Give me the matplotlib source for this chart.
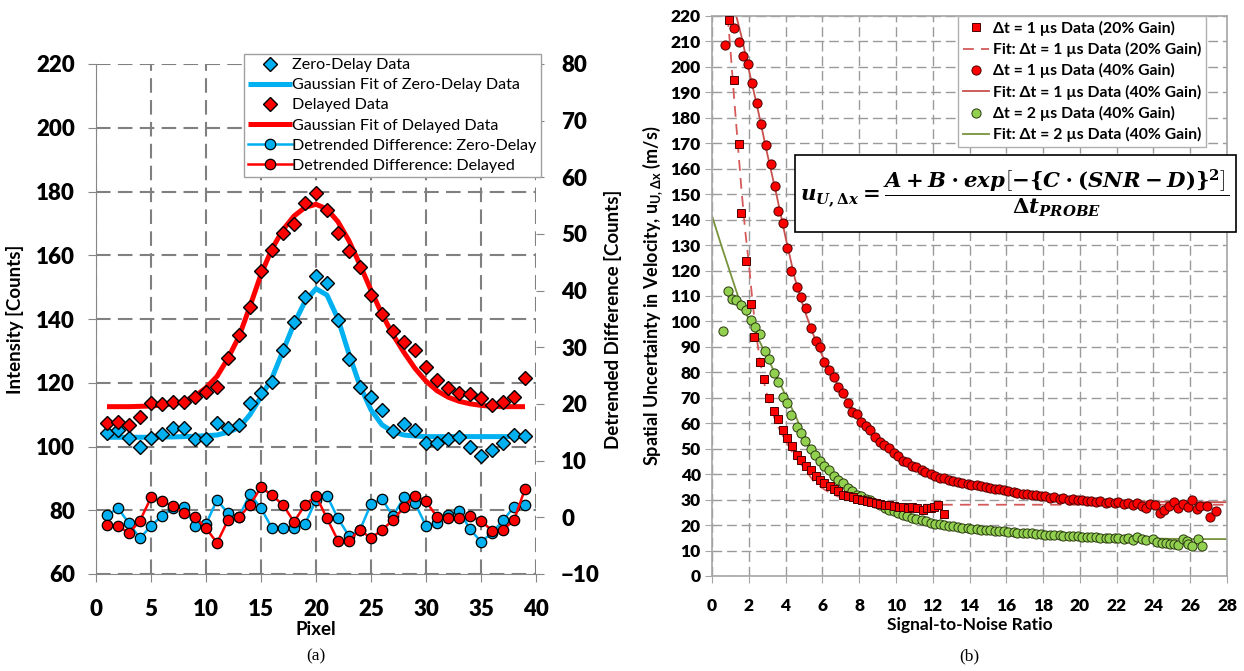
import matplotlib
matplotlib.use('Agg')
from matplotlib import pyplot as plt
from matplotlib.patches import Rectangle
import numpy as np

plt.rcParams['font.family'] = ['Lato', 'DejaVu Sans']
plt.rcParams['mathtext.fontset'] = 'custom'
plt.rcParams['mathtext.rm'] = 'DejaVu Serif:bold'
plt.rcParams['mathtext.it'] = 'DejaVu Serif:italic:bold'
plt.rcParams['mathtext.bf'] = 'DejaVu Serif:bold'

# ---- panel (a) data ----
pixel = list(range(1, 40))
zero_delay = [104.1, 105.2, 102.6, 100.0, 102.6, 104.0, 105.7, 105.7, 102.3, 102.3,
              107.3, 105.7, 106.7, 113.6, 116.7, 120.3, 130.3, 139.2, 147.0, 153.5,
              151.2, 139.7, 127.4, 118.6, 115.6, 111.5, 105.0, 107.0, 105.2, 101.0,
              101.0, 102.3, 103.0, 100.0, 97.0, 98.9, 101.0, 103.6, 103.3]
delayed = [107.3, 107.8, 106.7, 109.3, 113.7, 113.4, 114.0, 114.0, 115.6, 117.2,
           118.6, 127.7, 135.0, 143.9, 155.2, 161.7, 166.9, 169.8, 176.5, 179.4,
           174.2, 166.9, 161.3, 156.2, 147.5, 141.6, 136.3, 132.9, 130.3, 125.0,
           120.9, 118.3, 116.7, 116.5, 115.1, 113.0, 114.0, 115.6, 121.4]
fit_zero = [102.9, 102.9, 102.9, 102.9, 102.9, 103.0, 103.0, 103.1, 103.2, 103.4,
            103.6, 104.5, 105.9, 110.0, 115.6, 121.5, 130.0, 138.5, 145.5, 149.5,
            147.5, 140.0, 129.0, 119.0, 111.5, 106.8, 104.6, 103.6, 103.3, 103.1,
            103.1, 103.1, 103.1, 103.1, 103.1, 103.1, 103.1, 103.1, 103.1]
fit_delayed = [112.5, 112.5, 112.5, 112.6, 112.7, 113.0, 113.4, 114.2, 115.8, 118.4,
               122.0, 127.7, 134.5, 144.0, 154.0, 162.0, 168.0, 172.3, 175.0, 176.0,
               174.5, 170.5, 164.5, 157.0, 149.0, 141.5, 135.0, 129.5, 124.5, 120.5,
               117.5, 115.5, 114.2, 113.4, 112.9, 112.6, 112.5, 112.5, 112.5]
det_zero = [0.41, 1.6, -1.05, -3.7, -1.5, 0.24, 1.6, 1.9, -1.5, -1.2,
            3.06, 0.7, 0.1, 4.1, 1.6, -1.9, -1.8, -1.9, -1.2, 3.06,
            3.8, -0.2, -3.3, -2.2, 2.35, 3.2, 0.24, 3.5, 2.5, -1.5,
            -0.95, 0.41, 1.2, -2.1, -4.3, -2.8, -0.5, 1.8, 2.2]
det_delayed = [-1.35, -1.5, -2.8, -0.6, 3.5, 2.8, 2.0, 0.7, 0.0, -1.9,
               -4.5, -0.5, 0.0, 2.2, 5.3, 3.9, 2.2, -0.8, 2.2, 3.8,
               -0.2, -4.1, -4.1, -2.2, -3.7, -2.2, -0.5, 1.8, 3.8, 2.8,
               0.1, -0.2, -0.2, 0.24, -0.6, -2.35, -2.2, -0.5, 5.0]

# ---- panel (b) data ----
sq20_snr = [0.95, 1.17, 1.45, 1.6, 1.84, 2.1, 2.31, 2.59, 2.82, 3.1, 3.35, 3.61, 3.85,
            4.1, 4.36, 4.6, 4.85, 5.1, 5.36, 5.64, 5.86, 6.1, 6.39, 6.64, 6.86, 7.14,
            7.39, 7.64, 7.9, 8.15, 8.4, 8.65, 8.9, 9.15, 9.4, 9.65, 9.9, 10.15, 10.4,
            10.65, 10.9, 11.15, 11.45, 11.7, 11.9, 12.05, 12.3, 12.6]
sq20_u = [218.3, 194.9, 169.9, 142.8, 123.6, 106.7, 93.7, 84.1, 77.3, 69.8, 64.8, 61.6, 57.4,
          54.1, 50.9, 47.6, 45.4, 43.3, 41.5, 39.4, 37.6, 36.5, 35.5, 34.2, 33.3, 32.0,
          31.6, 31.0, 30.3, 29.8, 29.4, 29.0, 28.6, 28.3, 28.0, 27.7, 27.5, 27.3, 27.1,
          26.9, 27.1, 26.6, 26.1, 26.9, 26.7, 27.2, 28.0, 24.5]
c40_snr = [0.7, 1.19, 1.45, 1.7, 1.94, 2.2, 2.45, 2.69, 2.92, 3.2, 3.45, 3.61, 3.85, 4.1,
           4.32, 4.6, 4.85, 5.11, 5.36, 5.64, 5.86, 6.1, 6.35, 6.62, 6.86, 7.1, 7.37, 7.61,
           7.86, 8.12, 8.36, 8.61, 8.87, 9.12, 9.36, 9.62, 9.87, 10.1, 10.4, 10.6, 10.9,
           11.1, 11.4, 11.6, 11.9, 12.1, 12.4, 12.6, 12.9, 13.1, 13.4, 13.6, 13.9, 14.1,
           14.4, 14.6, 14.9, 15.1, 15.4, 15.6, 15.9, 16.1, 16.4, 16.6, 16.9, 17.1, 17.4,
           17.6, 17.9, 18.1, 18.4, 18.6, 18.9, 19.1, 19.4, 19.6, 19.9, 20.1, 20.4, 20.6,
           20.9, 21.1, 21.4, 21.6, 21.9, 22.1, 22.4, 22.6, 22.9, 23.1, 23.4, 23.6, 23.8,
           24.07, 24.35, 24.6, 24.85, 25.1, 25.35, 25.6, 25.9, 26.1, 26.35, 26.55, 26.9,
           27.1, 27.4]
c40_u = [208.5, 215.2, 209.9, 204.3, 201.0, 193.6, 186.0, 177.5, 169.3, 162.0, 153.2, 143.2,
         138.5, 128.9, 119.7, 113.5, 109.8, 105.3, 97.6, 92.3, 90.0, 84.1, 81.1, 78.3, 74.1,
         71.7, 68.1, 64.6, 63.6, 60.6, 59.0, 57.4, 54.8, 52.8, 51.5, 50.2, 48.5, 47.0, 45.3,
         44.6, 43.3, 42.8, 41.5, 40.7, 40.2, 39.1, 38.5, 38.5, 37.8, 37.4, 37.0, 36.6, 36.3,
         35.9, 35.6, 35.2, 34.8, 34.6, 34.2, 34.0, 33.6, 33.3, 33.0, 32.8, 32.4, 32.3, 31.9,
         31.7, 31.3, 31.4, 30.8, 30.9, 30.4, 30.6, 30.0, 30.2, 29.7, 29.9, 29.3, 29.6, 29.0,
         29.4, 28.8, 29.2, 28.5, 28.9, 28.2, 28.7, 27.9, 28.6, 27.6, 26.6, 28.3, 27.9, 24.9,
         25.9, 27.5, 29.2, 26.7, 28.4, 27.1, 29.7, 26.4, 27.5, 27.5, 23.1, 25.7]
g2_snr = [0.6, 0.85, 1.07, 1.32, 1.56, 1.84, 2.1, 2.35, 2.59, 2.86, 3.1, 3.35, 3.61, 3.85,
          4.1, 4.32, 4.6, 4.85, 5.08, 5.36, 5.6, 5.86, 6.1, 6.35, 6.62, 6.86, 7.1, 7.37,
          7.61, 7.86, 8.12, 8.36, 8.61, 8.87, 9.12, 9.4, 9.62, 9.87, 10.1, 10.4, 10.6,
          10.9, 11.1, 11.4, 11.65, 11.9, 12.1, 12.4, 12.6, 12.9, 13.1, 13.4, 13.6, 13.9,
          14.1, 14.4, 14.6, 14.9, 15.1, 15.4, 15.6, 15.9, 16.1, 16.4, 16.6, 16.9, 17.1,
          17.4, 17.6, 17.9, 18.1, 18.4, 18.6, 18.9, 19.1, 19.4, 19.6, 19.9, 20.1, 20.4,
          20.6, 20.9, 21.1, 21.4, 21.6, 21.9, 22.1, 22.4, 22.6, 22.9, 23.1, 23.4, 23.6,
          23.95, 24.2, 24.45, 24.7, 24.9, 25.1, 25.35, 25.6, 25.8, 25.9, 26.1, 26.4, 26.65]
g2_u = [96.3, 111.9, 108.9, 108.5, 106.3, 104.6, 100.4, 97.8, 95.0, 88.4, 85.2, 79.8, 76.2,
        70.4, 68.1, 63.1, 58.7, 56.1, 53.1, 49.8, 47.5, 45.0, 43.3, 41.5, 39.4, 37.8, 36.5,
        34.6, 33.3, 32.0, 31.3, 30.3, 29.7, 28.7, 28.0, 26.7, 26.1, 25.4, 24.8, 24.1, 23.5,
        22.8, 22.4, 21.9, 21.5, 20.9, 20.6, 20.3, 20.0, 19.8, 19.5, 19.3, 19.0, 18.8, 18.6,
        18.5, 18.2, 18.1, 17.9, 17.8, 17.6, 17.5, 17.3, 17.2, 17.0, 16.9, 16.8, 16.7, 16.5,
        16.4, 16.3, 16.2, 16.0, 16.0, 15.8, 15.8, 15.6, 15.6, 15.4, 15.5, 15.2, 15.3, 15.0,
        15.1, 14.8, 14.9, 15.0, 14.5, 14.8, 14.3, 15.2, 14.4, 14.0, 14.4, 13.5, 13.1, 12.8,
        12.6, 12.6, 12.2, 14.6, 13.8, 12.6, 11.8, 14.4, 11.8]
fit20_snr = [0.85, 1.0, 1.2, 1.4, 1.6, 1.8, 2.0, 2.2, 2.4, 2.6, 2.8, 3.0, 3.25, 3.5, 4.0,
             4.5, 5.0, 5.5, 6.0, 6.5, 7.0, 7.5, 8.0, 9.0, 10.0, 28.0]
fit20_u = [220, 207, 188, 170, 152, 136, 123, 108, 95, 85, 77, 71, 65, 60, 53,
           47, 42.5, 37.5, 34.5, 32.3, 30.8, 29.7, 28.9, 28.2, 28.0, 28.0]
fit40_snr = [1.32, 1.6, 2.0, 2.5, 3.0, 3.5, 4.0, 4.5, 5.0, 5.5, 6.0, 6.5, 7.0, 7.5, 8.0,
             8.5, 9.0, 10, 11, 12, 13, 14, 15, 16, 18, 20, 22, 24, 26, 28]
fit40_u = [220, 212, 199, 183, 166, 150, 133, 117, 105, 95, 86.5, 79.5, 73, 67, 62,
           57.5, 53.5, 47.5, 43, 39.5, 37.2, 35.5, 34.2, 33, 31.3, 30.2, 29.5, 29.2, 29, 29]
fit2_snr = [0, 0.5, 1.0, 1.5, 2.0, 2.5, 3.0, 3.5, 4.0, 4.5, 5.0, 5.5, 6.0, 6.5, 7.0, 7.5,
            8, 8.5, 9, 10, 11, 12, 13, 14, 16, 18, 20, 22, 24, 26, 28]
fit2_u = [141.5, 130, 119, 108, 101, 93.5, 86, 78.5, 71, 63.5, 55.5, 48.5, 43.5, 39.5, 36.5,
          34, 31.5, 29.7, 28, 25, 22.8, 21, 19.7, 18.7, 17.3, 16.2, 15.5, 15, 14.7, 14.5, 14.5]

W, H = 1244, 671
fig = plt.figure(figsize=(W / 100, H / 100), dpi=100)

blue = '#00B0F0'
red = '#FF0000'
gridgray = '#808080'

# ================= panel (a) =================
ax = fig.add_axes([96 / W, 97 / H, 440 / W, 510 / H])
ax2 = ax.twinx()

h1, = ax.plot(pixel, fit_zero, color=blue, lw=3.6, solid_capstyle='butt', zorder=2)
h2, = ax.plot(pixel, fit_delayed, color=red, lw=3.6, solid_capstyle='butt', zorder=2)
h3, = ax.plot(pixel, zero_delay, 'D', ms=7.5, mfc=blue, mec='black', mew=1.0, zorder=3)
h4, = ax.plot(pixel, delayed, 'D', ms=7.5, mfc=red, mec='black', mew=1.0, zorder=3)
h5, = ax2.plot(pixel, det_zero, '-o', color=blue, lw=1.8, ms=7.5, mfc=blue, mec='black', mew=0.9)
h6, = ax2.plot(pixel, det_delayed, '-o', color=red, lw=1.8, ms=7.5, mfc=red, mec='black', mew=0.9)

ax.set_xlim(0, 40)
ax.set_ylim(60, 220)
ax.set_xticks(range(0, 41, 5))
ax.set_yticks(range(60, 221, 20))
ax2.set_ylim(-10, 80)
ax2.set_yticks(range(-10, 81, 10))
ax.grid(True, color=gridgray, lw=1.5, ls=(0, (7, 3.5)))
ax.set_axisbelow(True)
for s in ['top', 'right']:
    ax.spines[s].set_visible(False)
for s in ['left', 'bottom']:
    ax.spines[s].set_color('#868686')
for s in ax2.spines.values():
    s.set_visible(False)
ax.tick_params(axis='both', direction='out', length=6, color='#868686', labelsize=16, pad=9)
ax.tick_params(axis='x', pad=12)
ax2.tick_params(axis='y', direction='out', length=6, color='#868686', labelsize=16, pad=12)
for lab in ax.get_xticklabels() + ax.get_yticklabels() + ax2.get_yticklabels():
    lab.set_fontweight('heavy')
ax.set_xlabel('Pixel', fontsize=13.5, fontweight='bold', labelpad=1)
ax.set_ylabel('Intensity [Counts]', fontsize=13.5, fontweight='bold', labelpad=9)
ax2.set_ylabel('Detrended Difference [Counts]', fontsize=13.5, fontweight='bold', labelpad=3)

leg = ax2.legend([h3, h1, h4, h2, h5, h6],
                 ['Zero-Delay Data', 'Gaussian Fit of Zero-Delay Data', 'Delayed Data',
                  'Gaussian Fit of Delayed Data', 'Detrended Difference: Zero-Delay',
                  'Detrended Difference: Delayed'],
                 loc='upper left', bbox_to_anchor=(244 / W, 1 - 54 / H),
                 bbox_transform=fig.transFigure, fontsize=11.6, frameon=True,
                 fancybox=False, framealpha=1, edgecolor='#a0a0a0', borderpad=0.25,
                 labelspacing=0.36, handlelength=2.7, handletextpad=0.05, borderaxespad=0)
leg.get_frame().set_linewidth(1.0)

# ================= panel (b) =================
axr = fig.add_axes([712 / W, 95 / H, 515 / W, 560 / H])
axr.plot(fit20_snr, fit20_u, color='#D65A5A', lw=1.3, ls=(0, (6, 4)), zorder=2,
         label='Fit: \u0394t = 1 \u00b5s Data (20% Gain)')
axr.plot(fit40_snr, fit40_u, color='#C8504D', lw=1.3, zorder=2,
         label='Fit: \u0394t = 1 \u00b5s Data (40% Gain)')
axr.plot(fit2_snr, fit2_u, color='#77933C', lw=1.3, zorder=2,
         label='Fit: \u0394t = 2 \u00b5s Data (40% Gain)')
axr.plot(g2_snr, g2_u, 'o', ms=6.6, mfc='#92D050', mec='#2a3a10', mew=0.7, zorder=3,
         label='\u0394t = 2 \u00b5s Data (40% Gain)')
axr.plot(c40_snr, c40_u, 'o', ms=6.6, mfc=red, mec='#4a0000', mew=0.7, zorder=4,
         label='\u0394t = 1 \u00b5s Data (40% Gain)')
axr.plot(sq20_snr, sq20_u, 's', ms=6.3, mfc=red, mec='#4a0000', mew=0.7, zorder=4,
         label='\u0394t = 1 \u00b5s Data (20% Gain)')

axr.set_xlim(0, 28)
axr.set_ylim(0, 220)
axr.set_xticks(range(0, 29, 2))
axr.set_yticks(range(0, 221, 10))
axr.grid(True, color='#9a9a9a', lw=1.0, ls=(0, (7, 3.5)))
axr.set_axisbelow(True)
for s in axr.spines.values():
    s.set_color('#a6a6a6')
    s.set_linewidth(1.2)
axr.tick_params(axis='both', direction='out', length=5, color='#a6a6a6', labelsize=12.5, pad=3)
axr.tick_params(axis='x', pad=11)
for lab in axr.get_xticklabels() + axr.get_yticklabels():
    lab.set_fontweight('heavy')
axr.set_xlabel('Signal-to-Noise Ratio', fontsize=12.5, fontweight='bold', labelpad=2)
axr.set_ylabel('Spatial Uncertainty in Velocity, u$_{\\mathregular{U,\u0394x}}$ (m/s)',
               fontsize=13, fontweight='bold', labelpad=4)

hs, ls_ = axr.get_legend_handles_labels()
order = [5, 0, 4, 1, 3, 2]
legr = axr.legend([hs[i] for i in order], [ls_[i] for i in order],
                  loc='upper left', bbox_to_anchor=(958 / W, 1 - 16 / H),
                  bbox_transform=fig.transFigure, prop={'weight': 'bold', 'size': 11.3},
                  frameon=True, fancybox=False, framealpha=1, edgecolor='#b0b0b0',
                  borderpad=0.3, labelspacing=0.4, handlelength=1.7,
                  handletextpad=0.2, borderaxespad=0)
legr.get_frame().set_linewidth(1.0)

# equation box
rect = Rectangle((795 / W, 1 - 232 / H), 441 / W, 77 / H, transform=fig.transFigure,
                 facecolor='white', edgecolor='black', lw=1.2, zorder=5)
fig.add_artist(rect)
eq = (r'$u_{U,\Delta x} = \dfrac{A + B\cdot exp\left[-\{C\cdot(SNR - D)\}^2\right]}'
      r'{\Delta t_{PROBE}}$')
fig.text(1015 / W, 1 - 194 / H, eq, ha='center', va='center', fontsize=15.3, zorder=6)

fig.text(316 / W, 1 - 656 / H, '(a)', ha='center', va='center', fontsize=12.5,
         family='Liberation Serif')
fig.text(969 / W, 1 - 656 / H, '(b)', ha='center', va='center', fontsize=12.5,
         family='Liberation Serif')

fig.savefig('out.png', dpi=100)
